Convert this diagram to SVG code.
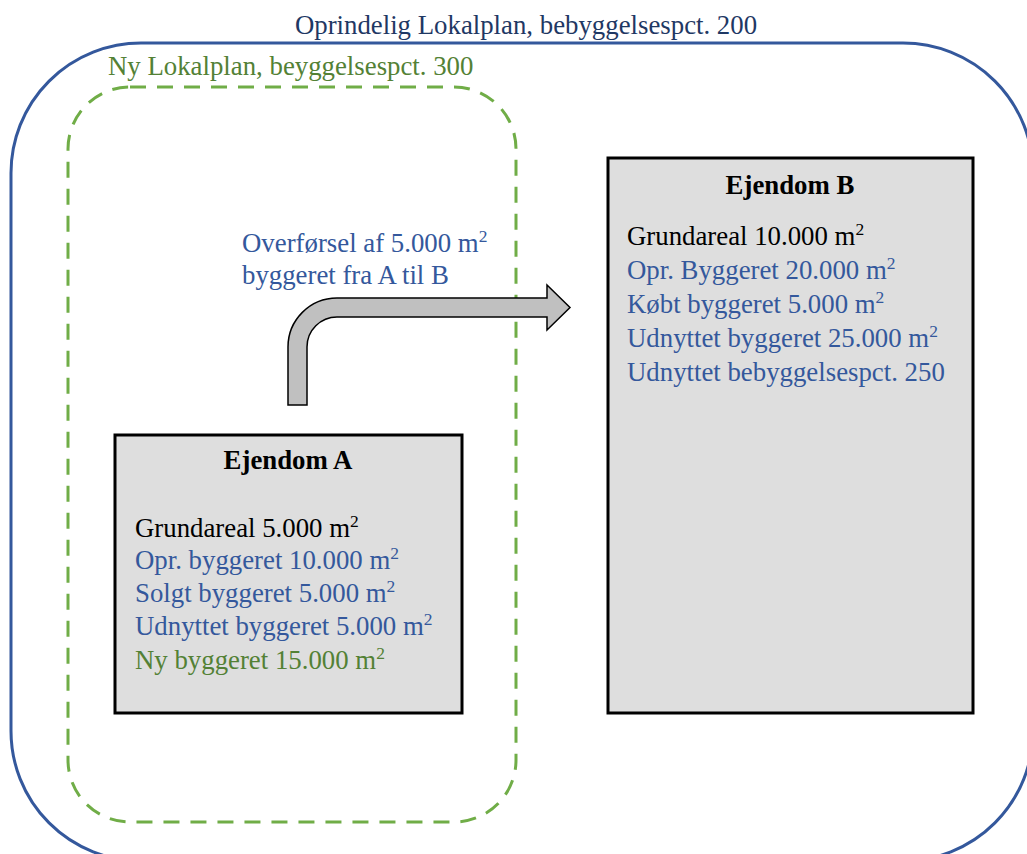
<svg xmlns="http://www.w3.org/2000/svg" width="1027" height="854" viewBox="0 0 1027 854">
  <style>
    .t { font-family: "Liberation Serif", "Times New Roman", serif; font-size: 26.8px; }
    .b { font-weight: bold; text-anchor: middle; fill: #000; }
    .k { fill: #000; }
    .blue { fill: #34589c; }
    .green { fill: #538135; }
    .box { fill: #dedede; stroke: #000; stroke-width: 3; }
    .sup { font-size: 17.5px; }
  </style>
  <rect width="1027" height="854" fill="#fff"/>

  <!-- Original local plan boundary -->
  <g id="plan-original">
    <rect x="11" y="43" width="1022" height="818" rx="130" ry="130" fill="none" stroke="#34589c" stroke-width="3"/>
    <text class="t" x="526" y="34" text-anchor="middle" fill="#1f3864">Oprindelig Lokalplan, bebyggelsespct. 200</text>
  </g>

  <!-- New local plan boundary -->
  <g id="plan-new">
    <rect x="68" y="87" width="448" height="735" rx="62" ry="62" fill="none" stroke="#70ad47" stroke-width="3" stroke-dasharray="16 11"/>
    <text class="t green" x="108" y="75">Ny Lokalplan, beyggelsespct. 300</text>
  </g>

  <!-- Transfer arrow -->
  <g id="connectors">
    <path d="M288,405 L288,347 A49,49 0 0 1 337,298 L547,298 L547,285 L570,307.5 L547,330 L547,317 L337,317 A30,30 0 0 0 307,347 L307,405 Z" fill="#c0c0c0" stroke="#000" stroke-width="1.5" stroke-linejoin="miter"/>
    <text class="t blue" x="242" y="252">Overførsel af 5.000 m<tspan class="sup" dy="-10">2</tspan></text>
    <text class="t blue" x="242" y="284">byggeret fra A til B</text>
  </g>

  <!-- Property A -->
  <g id="ejendom-a">
    <rect class="box" x="115" y="435" width="347" height="278"/>
    <text class="t b" x="288" y="469">Ejendom A</text>
    <text class="t k" x="135" y="537">Grundareal 5.000 m<tspan class="sup" dy="-10">2</tspan></text>
    <text class="t blue" x="135" y="569">Opr. byggeret 10.000 m<tspan class="sup" dy="-10">2</tspan></text>
    <text class="t blue" x="135" y="602">Solgt byggeret 5.000 m<tspan class="sup" dy="-10">2</tspan></text>
    <text class="t blue" x="135" y="635">Udnyttet byggeret 5.000 m<tspan class="sup" dy="-10">2</tspan></text>
    <text class="t green" x="135" y="669">Ny byggeret 15.000 m<tspan class="sup" dy="-10">2</tspan></text>
  </g>

  <!-- Property B -->
  <g id="ejendom-b">
    <rect class="box" x="608" y="158" width="365" height="555"/>
    <text class="t b" x="790" y="194">Ejendom B</text>
    <text class="t k" x="627" y="245">Grundareal 10.000 m<tspan class="sup" dy="-10">2</tspan></text>
    <text class="t blue" x="627" y="279">Opr. Byggeret 20.000 m<tspan class="sup" dy="-10">2</tspan></text>
    <text class="t blue" x="627" y="313">Købt byggeret 5.000 m<tspan class="sup" dy="-10">2</tspan></text>
    <text class="t blue" x="627" y="347">Udnyttet byggeret 25.000 m<tspan class="sup" dy="-10">2</tspan></text>
    <text class="t blue" x="627" y="381">Udnyttet bebyggelsespct. 250</text>
  </g>
</svg>
